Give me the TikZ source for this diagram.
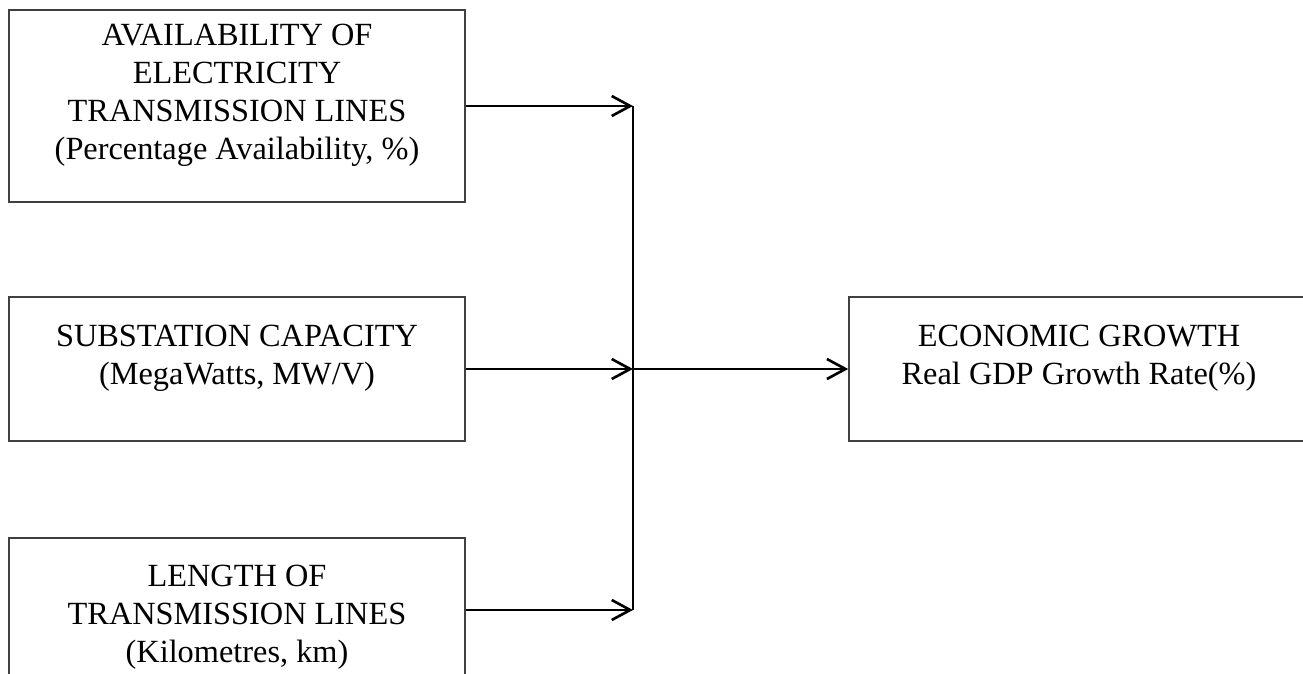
\documentclass[tikz,border=0pt]{standalone}
\usepackage{fontspec}
\setmainfont{Liberation Serif}
\usetikzlibrary{arrows.meta}

% extra depth under the last line, so the text sits a little above the middle
\newcommand{\lowpad}{\rule[-0.58cm]{0pt}{0.58cm}}

\tikzset{
  varbox/.style={draw=black!75, line width=0.9pt, minimum width=9.12cm, align=center,
                 font=\fontsize{18.4}{21.6}\selectfont},
  flow/.style={line width=1.5pt, -{Straight Barb[length=3.7mm,width=4mm,line width=1.5pt]}}
}

\begin{document}
\begin{tikzpicture}
             \useasboundingbox (0,0) rectangle (26.06,-13.48);

             \node[varbox, minimum height=3.84cm] (Avail) at (4.74,-2.12) {AVAILABILITY OF\\ELECTRICITY\\TRANSMISSION LINES\\(Percentage Availability, \%)\lowpad};
             \node[varbox, minimum height=2.88cm] (Substation) at (4.74,-7.38) {SUBSTATION CAPACITY\\(MegaWatts, MW/V)\lowpad};
             \node[varbox, minimum height=3.6cm] (Length) at (4.74,-12.56) {LENGTH OF\\TRANSMISSION LINES\\(Kilometres, km)\lowpad};
             \node[varbox, minimum height=2.88cm, minimum width=9.2cm] (Growth) at (21.58,-7.38) {ECONOMIC GROWTH\\Real GDP Growth Rate(\%)\lowpad};

             \coordinate (join top) at (12.66,-2.12);
             \coordinate (join mid) at (12.66,-7.38);
             \coordinate (join bot) at (12.66,-12.2);

             \draw [line width=1.5pt] (join top) -- (join bot);
             \draw [flow] (Avail.east) to (join top);
             \draw [flow] (Substation.east) to (join mid);
             \draw [flow] (join bot -| Length.east) to (join bot);
             \draw [flow] (join mid) to (Growth.west);

         \end{tikzpicture}
\end{document}
